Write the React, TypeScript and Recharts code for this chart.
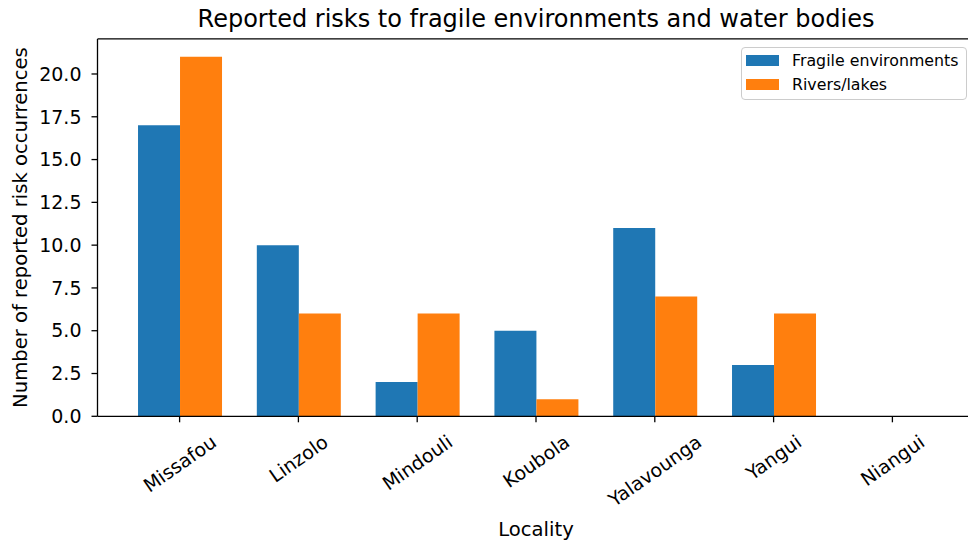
import React from 'react';
import { BarChart, Bar, XAxis, YAxis, Legend, ReferenceLine } from 'recharts';

const localities = ['Missafou', 'Linzolo', 'Mindouli', 'Koubola', 'Yalavounga', 'Yangui', 'Niangui'];
const fragileEnvironments = [17, 10, 2, 5, 11, 3, 0];
const riversLakes = [21, 6, 6, 1, 7, 6, 0];
const yTicks = [0, 2.5, 5, 7.5, 10, 12.5, 15, 17.5, 20];
const yMax = 22.05;
const seriesNames = ['Fragile environments', 'Rivers/lakes'];
const seriesColors = ['#1f77b4', '#ff7f0e'];
const chartTitle = 'Reported risks to fragile environments and water bodies';
const xLabel = 'Locality';
const yLabel = 'Number of reported risk occurrences';

const data = localities.map((name, i) => ({
  name,
  fragile: fragileEnvironments[i],
  rivers: riversLakes[i],
}));

const FONT = "'DejaVu Sans', sans-serif";
const TEXT = '#000000';
const AXIS = '#000000';

let ctx: CanvasRenderingContext2D | null = null;
function measure(text: string, size: number): number {
  if (!ctx) ctx = document.createElement('canvas').getContext('2d');
  if (!ctx) return text.length * size * 0.6;
  ctx.font = `${size}px 'DejaVu Sans'`;
  return ctx.measureText(text).width;
}

const XTick = (props: any) => {
  const { x, y, payload } = props;
  const fs = 19;
  const deg = 35;
  const a = (deg * Math.PI) / 180;
  const w = measure(String(payload.value), fs);
  const h = 0.97 * fs;
  const cy = y + 7.5 + (w * Math.sin(a) + h * Math.cos(a)) / 2;
  return (
    <text
      x={x}
      y={cy}
      textAnchor="middle"
      dominantBaseline="central"
      transform={`rotate(-${deg}, ${x}, ${cy})`}
      fontSize={fs}
      fontFamily={FONT}
      fill={TEXT}
    >
      {payload.value}
    </text>
  );
};

const LegendContent = (props: any) => {
  const { payload } = props;
  return (
    <div
      style={{
        boxSizing: 'border-box',
        width: 226,
        height: 53,
        border: '1px solid #cccccc',
        borderRadius: 4,
        background: 'rgba(255,255,255,0.8)',
        position: 'relative',
        fontFamily: FONT,
        fontSize: 15.8,
        color: TEXT,
      }}
    >
      {(payload || []).map((entry: any, i: number) => (
        <React.Fragment key={entry.value}>
          <div
            style={{
              position: 'absolute',
              left: 4,
              top: 7 + i * 24,
              width: 33,
              height: 11,
              background: entry.color,
            }}
          />
          <div
            style={{
              position: 'absolute',
              left: 50,
              top: 5.3 + i * 24,
              lineHeight: '15.8px',
              whiteSpace: 'nowrap',
            }}
          >
            {entry.value}
          </div>
        </React.Fragment>
      ))}
    </div>
  );
};

export default function App() {
  return (
    <div
      style={{
        position: 'absolute',
        left: 0,
        top: 0,
        width: 968,
        height: 541,
        overflow: 'hidden',
        background: '#fff',
      }}
    >
      <div
        style={{
          position: 'absolute',
          left: 0,
          top: 6.7,
          width: 1072,
          textAlign: 'center',
          fontFamily: FONT,
          fontSize: 24,
          lineHeight: '24px',
          color: TEXT,
          whiteSpace: 'nowrap',
        }}
      >
        {chartTitle}
      </div>
      <BarChart
        width={980}
        height={541}
        data={data}
        margin={{ top: 38.9, right: 5.5, bottom: 24.7, left: 0 }}
        barCategoryGap="15%"
        barGap={0}
      >
        <XAxis
          dataKey="name"
          type="category"
          interval={0}
          height={100}
          tickSize={6}
          padding={{ left: 22.7, right: 22.7 }}
          tick={<XTick />}
          axisLine={{ stroke: AXIS, strokeWidth: 1.3 }}
          tickLine={{ stroke: AXIS, strokeWidth: 1.3 }}
          label={{
            content: () => (
              <text x={536} y={536} textAnchor="middle" fontSize={19.6} fontFamily={FONT} fill={TEXT}>
                {xLabel}
              </text>
            ),
          }}
        />
        <YAxis
          type="number"
          width={97.5}
          domain={[0, yMax]}
          ticks={yTicks}
          interval={0}
          tickSize={6}
          tickMargin={10}
          tickFormatter={(v: number) => v.toFixed(1)}
          tick={{ fontSize: 19, fontFamily: FONT, fill: TEXT }}
          axisLine={{ stroke: AXIS, strokeWidth: 1.3 }}
          tickLine={{ stroke: AXIS, strokeWidth: 1.3 }}
          label={{
            content: () => (
              <text
                x={27.5}
                y={227.6}
                transform="rotate(-90, 27.5, 227.6)"
                textAnchor="middle"
                fontSize={19.6}
                fontFamily={FONT}
                fill={TEXT}
              >
                {yLabel}
              </text>
            ),
          }}
        />
        <ReferenceLine y={yMax} stroke={AXIS} strokeWidth={1.3} />
        <Legend
          layout="vertical"
          align="center"
          verticalAlign="middle"
          content={<LegendContent />}
          wrapperStyle={{ left: 741, top: 47, width: 226, height: 53 }}
        />
        <Bar dataKey="fragile" name={seriesNames[0]} fill={seriesColors[0]} isAnimationActive={false} />
        <Bar dataKey="rivers" name={seriesNames[1]} fill={seriesColors[1]} isAnimationActive={false} />
      </BarChart>
    </div>
  );
}
